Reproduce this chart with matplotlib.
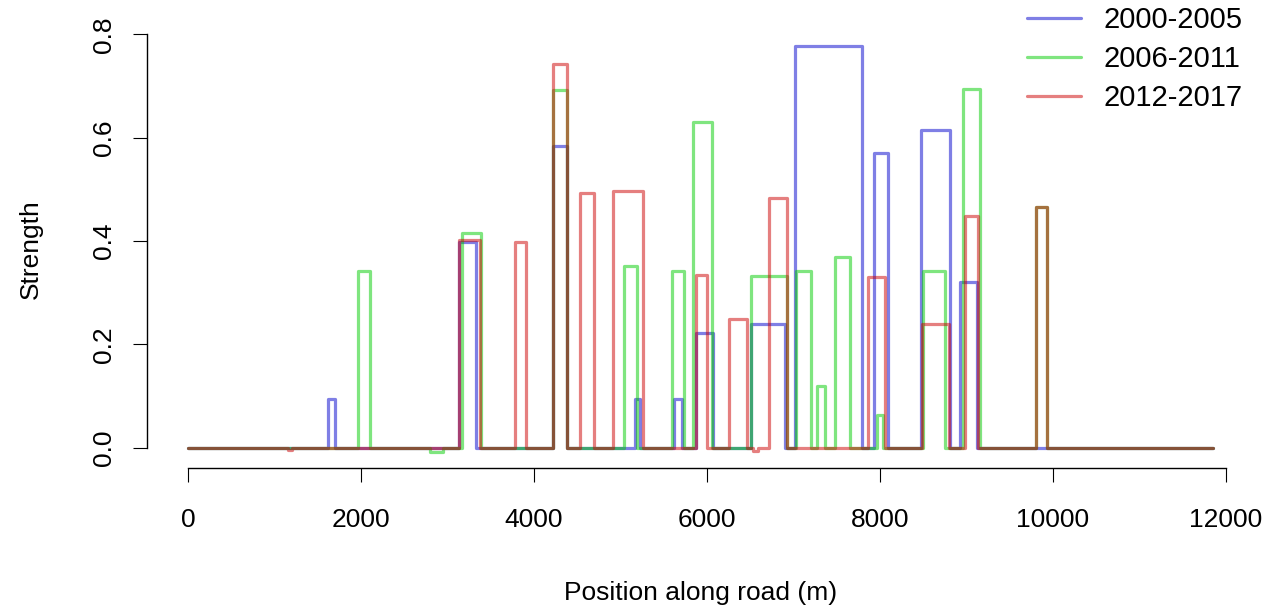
import matplotlib
matplotlib.use('Agg')
import matplotlib.pyplot as plt
import matplotlib as mpl

mpl.rcParams.update({
    'font.family': 'Liberation Sans',
    'font.size': 19,
    'axes.linewidth': 1.0,
    'xtick.direction': 'out',
    'ytick.direction': 'out',
    'xtick.major.size': 10,
    'ytick.major.size': 10,
    'legend.frameon': False,
})

# road length (m)
road_end = 11850

# 2000-2005 : pulse start, pulse end, strength
blue_start = [1622, 3135, 4216, 5168, 5615, 5872, 6505, 7017, 7931, 8471, 8925]
blue_end = [1699, 3330, 4378, 5226, 5707, 6075, 6902, 7788, 8093, 8809, 9125]
blue_val = [0.094, 0.398, 0.584, 0.094, 0.094, 0.221, 0.239, 0.777, 0.571, 0.615, 0.320]

# 2006-2011
green_start = [1962, 2800, 3165, 4216, 5040, 5600, 5835, 6505, 7030, 7268, 7480, 7962, 8501, 8963, 9803]
green_end = [2100, 2950, 3390, 4378, 5195, 5730, 6054, 6921, 7197, 7364, 7653, 8035, 8751, 9156, 9930]
green_val = [0.341, -0.008, 0.415, 0.693, 0.351, 0.341, 0.631, 0.333, 0.341, 0.120, 0.369, 0.064, 0.341, 0.694, 0.465]

# 2012-2017
red_start = [1160, 3130, 3780, 4216, 4532, 4917, 5872, 6258, 6530, 6720, 7861, 8482, 8983, 9803]
red_end = [1200, 3380, 3910, 4378, 4697, 5257, 5996, 6466, 6590, 6920, 8058, 8801, 9137, 9930]
red_val = [-0.005, 0.402, 0.398, 0.743, 0.493, 0.496, 0.334, 0.249, -0.006, 0.483, 0.330, 0.240, 0.449, 0.465]

labels = ['2000-2005', '2006-2011', '2012-2017']
colors = ['#0000cc', '#00cc00', '#cc0000']


def step_line(starts, ends, vals):
    xs, ys = [0], [0]
    for s, e, v in zip(starts, ends, vals):
        xs += [s, s, e, e]
        ys += [0, v, v, 0]
    xs.append(road_end)
    ys.append(0)
    return xs, ys


series = [(blue_start, blue_end, blue_val),
          (green_start, green_end, green_val),
          (red_start, red_end, red_val)]

fig = plt.figure(figsize=(12.82, 6.10), dpi=100)
ax = fig.add_axes([147 / 1282, (610 - 468) / 610, (1254 - 147) / 1282, (468 - 30) / 610])

all_y = [0]
for (s, e, v), lab, col in zip(series, labels, colors):
    xs, ys = step_line(s, e, v)
    all_y += ys
    ax.plot(xs, ys, color=col, alpha=0.5, lw=2.3, label=lab,
            solid_joinstyle='round', solid_capstyle='round')

# R style limits: data range + 4%
xpad = 0.04 * road_end
ax.set_xlim(-xpad, road_end + xpad)
ypad = 0.04 * (max(all_y) - min(all_y))
ax.set_ylim(min(all_y) - ypad, max(all_y) + ypad)

ax.set_xticks([0, 2000, 4000, 6000, 8000, 10000, 12000])
ax.set_yticks([0.0, 0.2, 0.4, 0.6, 0.8])
ax.set_yticklabels(['0.0', '0.2', '0.4', '0.6', '0.8'], rotation=90, va='center')
ax.tick_params(axis='x', pad=19)
ax.tick_params(axis='y', pad=12)

for side in ['top', 'right']:
    ax.spines[side].set_visible(False)
ax.spines['bottom'].set_bounds(0, 12000)
ax.spines['left'].set_bounds(0, 0.8)

ax.set_xlabel('Position along road (m)', labelpad=35)
ax.set_ylabel('Strength', labelpad=36)

ax.legend(loc='upper right', bbox_to_anchor=(1243 / 1282, 1 - 6 / 610),
          bbox_transform=fig.transFigure, borderpad=0, borderaxespad=0,
          fontsize=21, handlelength=1.85, handletextpad=0.8, labelspacing=0.38)

plt.savefig('out.png', dpi=100)
